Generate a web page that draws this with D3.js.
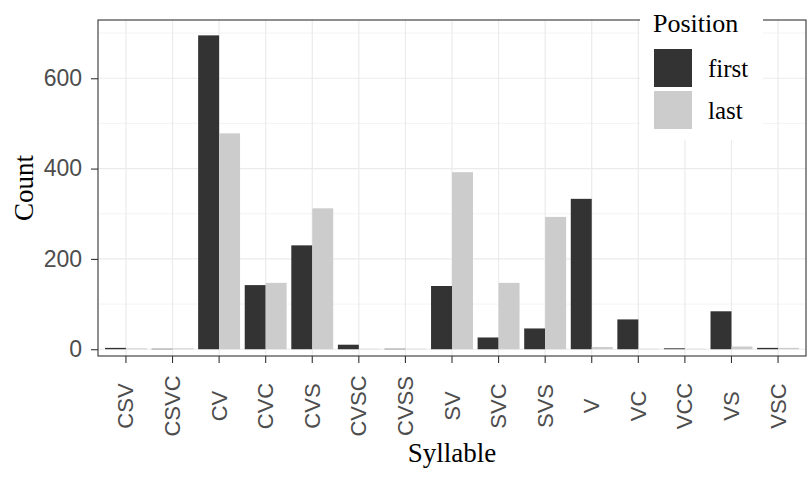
<!DOCTYPE html>
<html>
<head>
<meta charset="utf-8">
<script src="https://cdn.jsdelivr.net/npm/d3@7"></script>
<style>
  body { margin: 0; background: #fff; }
  svg { display: block; }
</style>
</head>
<body>
<svg id="chart" width="810" height="477"></svg>
<script>
const categories = ["CSV","CSVC","CV","CVC","CVS","CVSC","CVSS","SV","SVC","SVS","V","VC","VCC","VS","VSC"];
const positions = ["first","last"];
const firstValues = [3, 1, 695, 142, 230, 10, 1, 140, 26, 46, 333, 66, 2, 84, 3];
const lastValues  = [2, 2, 478, 147, 312, 1, 1, 392, 147, 293, 5, 1, 1, 6, 3];
const yTicks = [0, 200, 400, 600];
const yMinor = [100, 300, 500, 700];
const colors = ["#333333", "#cccccc"];

const data = categories.map((c, i) => ({cat: c, first: firstValues[i], last: lastValues[i]}));

const svg = d3.select("#chart");
const panel = {left: 98, right: 806, top: 20, bottom: 356};

const x = d3.scaleBand().domain(categories).range([panel.left, panel.right])
  .paddingInner(0).paddingOuter(0.1);
const step = x.step();
const x1 = d3.scaleBand().domain(positions).range([-0.45 * step, 0.45 * step]).padding(0);
const y = d3.scaleLinear().domain([-15, 729]).range([panel.bottom, panel.top]);
const color = d3.scaleOrdinal().domain(positions).range(colors);
const cx = c => x(c) + x.bandwidth() / 2;

// panel background
svg.append("rect").attr("x", panel.left).attr("y", panel.top)
  .attr("width", panel.right - panel.left).attr("height", panel.bottom - panel.top)
  .attr("fill", "#fff");

const grid = svg.append("g");
grid.selectAll(".ymin").data(yMinor).join("line")
  .attr("x1", panel.left).attr("x2", panel.right)
  .attr("y1", d => y(d)).attr("y2", d => y(d))
  .attr("stroke", "#ebebeb").attr("stroke-width", 0.6);
grid.selectAll(".ymaj").data(yTicks).join("line")
  .attr("x1", panel.left).attr("x2", panel.right)
  .attr("y1", d => y(d)).attr("y2", d => y(d))
  .attr("stroke", "#ebebeb").attr("stroke-width", 1.2);
grid.selectAll(".xmaj").data(categories).join("line")
  .attr("x1", d => cx(d)).attr("x2", d => cx(d))
  .attr("y1", panel.top).attr("y2", panel.bottom)
  .attr("stroke", "#ebebeb").attr("stroke-width", 1.2);

// bars
const groups = svg.append("g").selectAll("g").data(data).join("g")
  .attr("transform", d => `translate(${cx(d.cat)},0)`);
groups.selectAll("rect").data(d => positions.map(p => ({p, v: d[p]}))).join("rect")
  .attr("x", d => x1(d.p))
  .attr("width", x1.bandwidth())
  .attr("y", d => y(d.v))
  .attr("height", d => y(0) - y(d.v))
  .attr("fill", d => color(d.p));

// panel border
svg.append("rect").attr("x", panel.left).attr("y", panel.top)
  .attr("width", panel.right - panel.left).attr("height", panel.bottom - panel.top)
  .attr("fill", "none").attr("stroke", "#333333").attr("stroke-width", 1.1);

// y axis
const yAxis = d3.axisLeft(y).tickValues(yTicks).tickSize(7).tickPadding(9);
const gy = svg.append("g").attr("transform", `translate(${panel.left},0)`).call(yAxis);
gy.select(".domain").remove();
gy.selectAll(".tick line").attr("stroke", "#333333").attr("stroke-width", 1.1);
gy.selectAll(".tick text").attr("fill", "#4d4d4d")
  .style("font-family", "'Liberation Sans', Arial, sans-serif").style("font-size", "23px");

// x axis
const xAxis = d3.axisBottom(x).tickSize(7).tickPadding(0);
const gx = svg.append("g").attr("transform", `translate(0,${panel.bottom})`).call(xAxis);
gx.select(".domain").remove();
gx.selectAll(".tick line").attr("stroke", "#333333").attr("stroke-width", 1.1);
gx.selectAll(".tick text")
  .attr("fill", "#4d4d4d")
  .attr("y", 0).attr("dy", null)
  .attr("transform", "translate(0,50) rotate(-90)")
  .attr("text-anchor", "middle")
  .attr("dominant-baseline", "central")
  .style("font-family", "'Liberation Sans', Arial, sans-serif").style("font-size", "22px");

// axis titles
svg.append("text").attr("x", (panel.left + panel.right) / 2).attr("y", 462)
  .attr("text-anchor", "middle").attr("fill", "#000")
  .style("font-family", "'Liberation Serif', 'Times New Roman', serif").style("font-size", "27px")
  .text("Syllable");
svg.append("text")
  .attr("transform", `translate(24,${(panel.top + panel.bottom) / 2}) rotate(-90)`)
  .attr("text-anchor", "middle").attr("dominant-baseline", "central").attr("fill", "#000")
  .style("font-family", "'Liberation Serif', 'Times New Roman', serif").style("font-size", "27px")
  .text("Count");

// legend
const lg = svg.append("g");
lg.append("rect").attr("x", 640).attr("y", 0).attr("width", 123).attr("height", 140).attr("fill", "#fff");
lg.append("text").attr("x", 653).attr("y", 32).attr("fill", "#000")
  .style("font-family", "'Liberation Serif', 'Times New Roman', serif").style("font-size", "26px")
  .text("Position");
const keyY = [49, 91];
positions.forEach((p, i) => {
  lg.append("rect").attr("x", 654).attr("y", keyY[i]).attr("width", 38).attr("height", 38)
    .attr("fill", color(p));
  lg.append("text").attr("x", 708).attr("y", keyY[i] + 19).attr("dominant-baseline", "central")
    .attr("fill", "#000")
    .style("font-family", "'Liberation Serif', 'Times New Roman', serif").style("font-size", "25px")
    .text(p);
});
</script>
</body>
</html>
